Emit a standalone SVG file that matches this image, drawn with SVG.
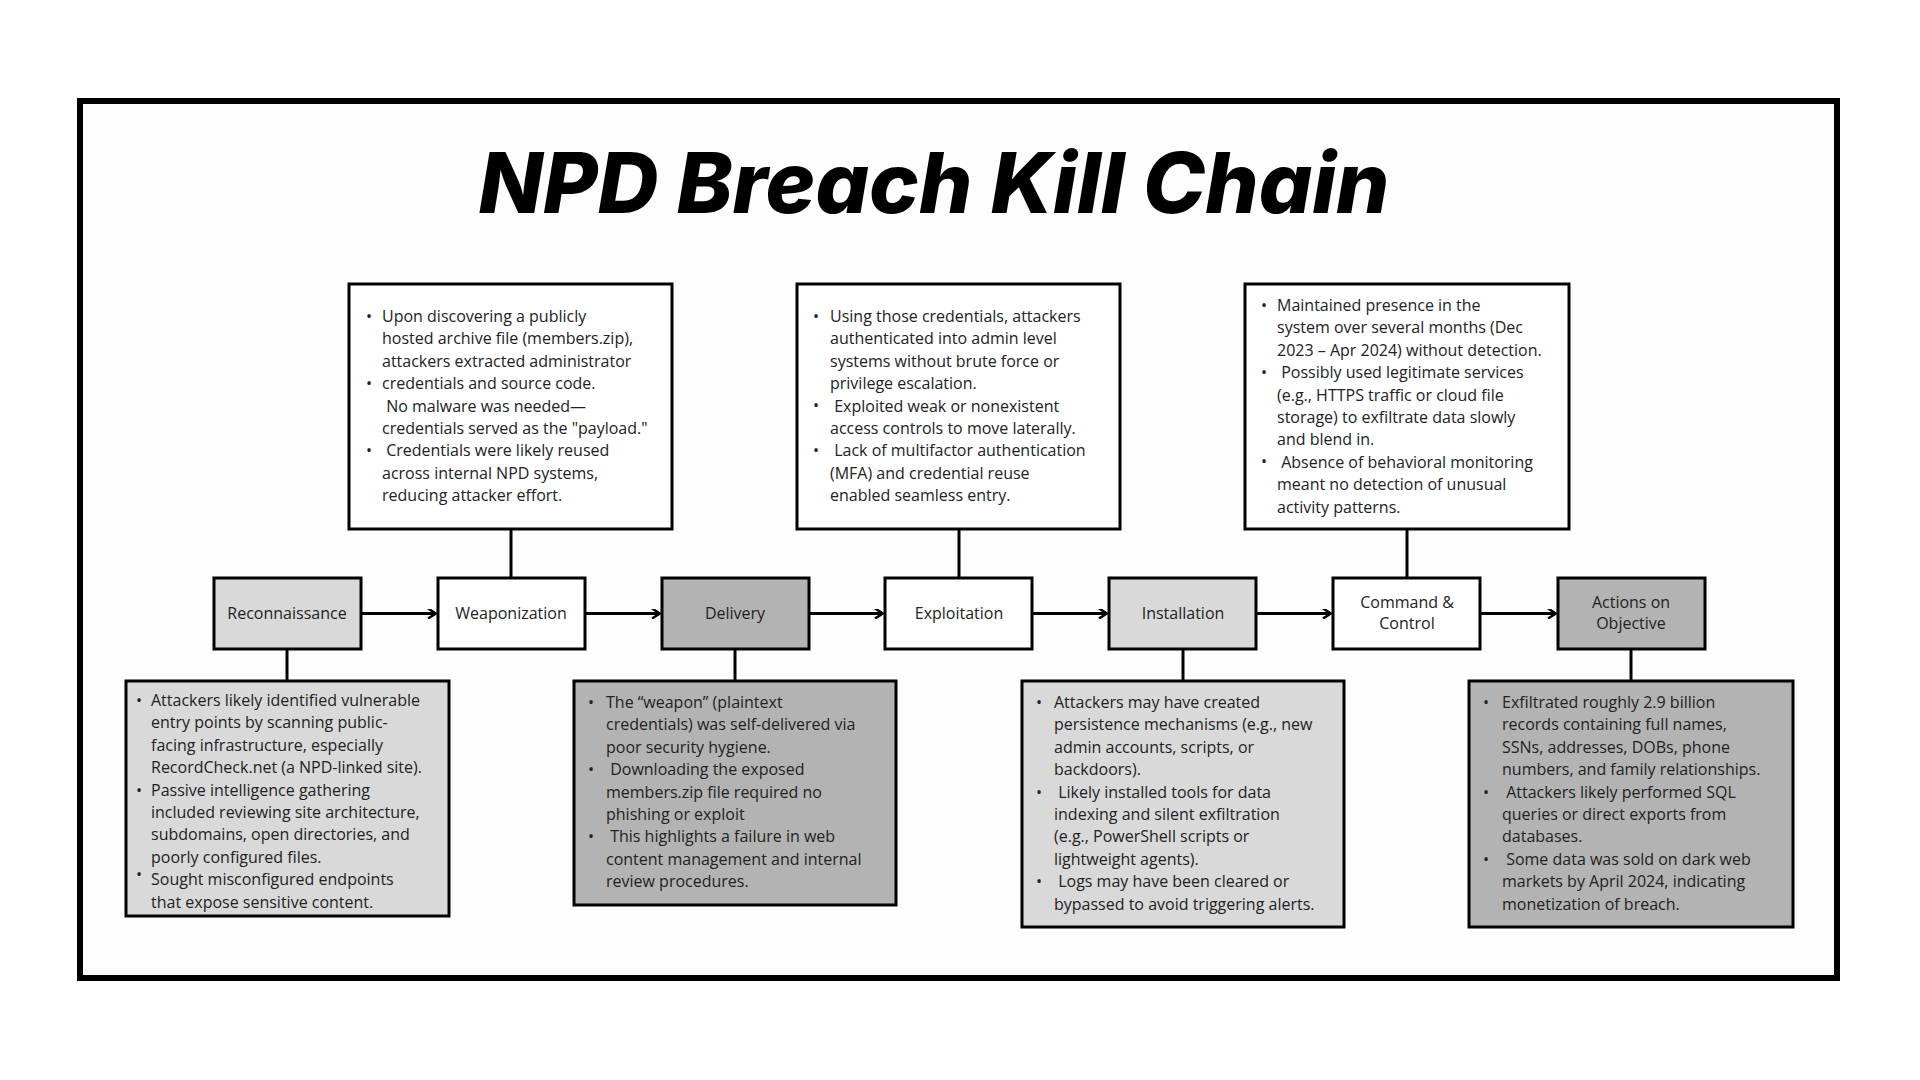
<svg xmlns="http://www.w3.org/2000/svg" width="1920" height="1080" viewBox="0 0 1920 1080">
<style>
.n{stroke:#000;stroke-width:3}
.t{font-family:"Open Sans","Liberation Sans",sans-serif;font-size:16px;fill:#222}
.c{text-anchor:middle}
.w{fill:#fff}.l{fill:#d9d9d9}.d{fill:#b3b3b3}
</style>
<defs><marker id="a" markerWidth="10" markerHeight="10" refX="9" refY="5" orient="auto" markerUnits="userSpaceOnUse"><path d="M1,0 L9,5 L1,10" fill="none" stroke="#000" stroke-width="2.5"/></marker></defs>
<rect width="1920" height="1080" fill="#fff"/>
<rect x="80" y="101" width="1757" height="877" fill="#fdfdfd" stroke="#000" stroke-width="6"/>
<text x="934" y="213" text-anchor="middle" font-family="Inter,'Open Sans',sans-serif" font-weight="800" font-style="italic" font-size="84" fill="#000">NPD Breach Kill Chain</text>
<g id="connectors" stroke="#000" stroke-width="3" fill="none">
<line x1="361" y1="613.5" x2="436" y2="613.5" marker-end="url(#a)"/>
<line x1="585" y1="613.5" x2="660" y2="613.5" marker-end="url(#a)"/>
<line x1="809" y1="613.5" x2="883" y2="613.5" marker-end="url(#a)"/>
<line x1="1032" y1="613.5" x2="1107" y2="613.5" marker-end="url(#a)"/>
<line x1="1256" y1="613.5" x2="1331" y2="613.5" marker-end="url(#a)"/>
<line x1="1480" y1="613.5" x2="1556" y2="613.5" marker-end="url(#a)"/>
<line x1="511" y1="529" x2="511" y2="578"/>
<line x1="959" y1="529" x2="959" y2="578"/>
<line x1="1407" y1="529" x2="1407" y2="578"/>
<line x1="287" y1="649" x2="287" y2="681"/>
<line x1="735" y1="649" x2="735" y2="681"/>
<line x1="1183" y1="649" x2="1183" y2="681"/>
<line x1="1631" y1="649" x2="1631" y2="681"/>
</g>
<g id="recon"><rect class="n l" x="214" y="578" width="147" height="71"/><text class="t c" x="287" y="619">Reconnaissance</text></g>
<g id="weap"><rect class="n w" x="438" y="578" width="147" height="71"/><text class="t c" x="511" y="619">Weaponization</text></g>
<g id="delivery"><rect class="n d" x="662" y="578" width="147" height="71"/><text class="t c" x="735" y="619">Delivery</text></g>
<g id="exploit"><rect class="n w" x="885" y="578" width="147" height="71"/><text class="t c" x="959" y="619">Exploitation</text></g>
<g id="install"><rect class="n l" x="1109" y="578" width="147" height="71"/><text class="t c" x="1183" y="619">Installation</text></g>
<g id="cc"><rect class="n w" x="1333" y="578" width="147" height="71"/><text class="t c" x="1407" y="608">Command &amp;</text><text class="t c" x="1407" y="629">Control</text></g>
<g id="actions"><rect class="n d" x="1558" y="578" width="147" height="71"/><text class="t c" x="1631" y="608">Actions on</text><text class="t c" x="1631" y="629">Objective</text></g>

<g id="weap-note"><rect class="n w" x="349" y="284" width="323" height="245"/>
<text class="t" x="366" y="322">•</text><text class="t" x="366" y="389">•</text><text class="t" x="366" y="456">•</text>
<text class="t"><tspan x="382" y="322"> Upon discovering a publicly</tspan><tspan x="382" dy="22.4">hosted archive file (members.zip),</tspan><tspan x="382" dy="22.4">attackers extracted administrator</tspan><tspan x="382" dy="22.4">credentials and source code.</tspan><tspan x="382" dy="22.4"> No malware was needed—</tspan><tspan x="382" dy="22.4">credentials served as the "payload."</tspan><tspan x="382" dy="22.4"> Credentials were likely reused</tspan><tspan x="382" dy="22.4">across internal NPD systems,</tspan><tspan x="382" dy="22.4">reducing attacker effort.</tspan></text></g>

<g id="exploit-note"><rect class="n w" x="797" y="284" width="323" height="245"/>
<text class="t" x="813" y="322">•</text><text class="t" x="813" y="411">•</text><text class="t" x="813" y="456">•</text>
<text class="t"><tspan x="830" y="322">Using those credentials, attackers</tspan><tspan x="830" dy="22.4">authenticated into admin level</tspan><tspan x="830" dy="22.4">systems without brute force or</tspan><tspan x="830" dy="22.4">privilege escalation.</tspan><tspan x="830" dy="22.4"> Exploited weak or nonexistent</tspan><tspan x="830" dy="22.4">access controls to move laterally.</tspan><tspan x="830" dy="22.4"> Lack of multifactor authentication</tspan><tspan x="830" dy="22.4">(MFA) and credential reuse</tspan><tspan x="830" dy="22.4">enabled seamless entry.</tspan></text></g>

<g id="cc-note"><rect class="n w" x="1245" y="284" width="324" height="245"/>
<text class="t" x="1261" y="311">•</text><text class="t" x="1261" y="378">•</text><text class="t" x="1261" y="467">•</text>
<text class="t"><tspan x="1277" y="311"> Maintained presence in the</tspan><tspan x="1277" dy="22.4">system over several months (Dec</tspan><tspan x="1277" dy="22.4">2023 – Apr 2024) without detection.</tspan><tspan x="1277" dy="22.4"> Possibly used legitimate services</tspan><tspan x="1277" dy="22.4">(e.g., HTTPS traffic or cloud file</tspan><tspan x="1277" dy="22.4">storage) to exfiltrate data slowly</tspan><tspan x="1277" dy="22.4">and blend in.</tspan><tspan x="1277" dy="22.4"> Absence of behavioral monitoring</tspan><tspan x="1277" dy="22.4">meant no detection of unusual</tspan><tspan x="1277" dy="22.4">activity patterns.</tspan></text></g>

<g id="recon-note"><rect class="n l" x="126" y="681" width="323" height="235"/>
<text class="t" x="136" y="706">•</text><text class="t" x="136" y="796">•</text><text class="t" x="136" y="880">•</text>
<text class="t"><tspan x="151" y="706">Attackers likely identified vulnerable</tspan><tspan x="151" dy="22.4">entry points by scanning public-</tspan><tspan x="151" dy="22.4">facing infrastructure, especially</tspan><tspan x="151" dy="22.4">RecordCheck.net (a NPD-linked site).</tspan><tspan x="151" dy="22.4">Passive intelligence gathering</tspan><tspan x="151" dy="22.4">included reviewing site architecture,</tspan><tspan x="151" dy="22.4">subdomains, open directories, and</tspan><tspan x="151" dy="22.4">poorly configured files.</tspan><tspan x="151" dy="22.4">Sought misconfigured endpoints</tspan><tspan x="151" dy="22.4">that expose sensitive content.</tspan></text></g>

<g id="delivery-note"><rect class="n d" x="574" y="681" width="322" height="224"/>
<text class="t" x="588" y="708">•</text><text class="t" x="588" y="775">•</text><text class="t" x="588" y="842">•</text>
<text class="t"><tspan x="606" y="708">The “weapon” (plaintext</tspan><tspan x="606" dy="22.4">credentials) was self-delivered via</tspan><tspan x="606" dy="22.4">poor security hygiene.</tspan><tspan x="606" dy="22.4"> Downloading the exposed</tspan><tspan x="606" dy="22.4">members.zip file required no</tspan><tspan x="606" dy="22.4">phishing or exploit</tspan><tspan x="606" dy="22.4"> This highlights a failure in web</tspan><tspan x="606" dy="22.4">content management and internal</tspan><tspan x="606" dy="22.4">review procedures.</tspan></text></g>

<g id="install-note"><rect class="n l" x="1022" y="681" width="322" height="246"/>
<text class="t" x="1036" y="708">•</text><text class="t" x="1036" y="798">•</text><text class="t" x="1036" y="887">•</text>
<text class="t"><tspan x="1054" y="708">Attackers may have created</tspan><tspan x="1054" dy="22.4">persistence mechanisms (e.g., new</tspan><tspan x="1054" dy="22.4">admin accounts, scripts, or</tspan><tspan x="1054" dy="22.4">backdoors).</tspan><tspan x="1054" dy="22.4"> Likely installed tools for data</tspan><tspan x="1054" dy="22.4">indexing and silent exfiltration</tspan><tspan x="1054" dy="22.4">(e.g., PowerShell scripts or</tspan><tspan x="1054" dy="22.4">lightweight agents).</tspan><tspan x="1054" dy="22.4"> Logs may have been cleared or</tspan><tspan x="1054" dy="22.4">bypassed to avoid triggering alerts.</tspan></text></g>

<g id="actions-note"><rect class="n d" x="1469" y="681" width="324" height="246"/>
<text class="t" x="1483" y="708">•</text><text class="t" x="1483" y="798">•</text><text class="t" x="1483" y="865">•</text>
<text class="t"><tspan x="1502" y="708">Exfiltrated roughly 2.9 billion</tspan><tspan x="1502" dy="22.4">records containing full names,</tspan><tspan x="1502" dy="22.4">SSNs, addresses, DOBs, phone</tspan><tspan x="1502" dy="22.4">numbers, and family relationships.</tspan><tspan x="1502" dy="22.4"> Attackers likely performed SQL</tspan><tspan x="1502" dy="22.4">queries or direct exports from</tspan><tspan x="1502" dy="22.4">databases.</tspan><tspan x="1502" dy="22.4"> Some data was sold on dark web</tspan><tspan x="1502" dy="22.4">markets by April 2024, indicating</tspan><tspan x="1502" dy="22.4">monetization of breach.</tspan></text></g>
</svg>
